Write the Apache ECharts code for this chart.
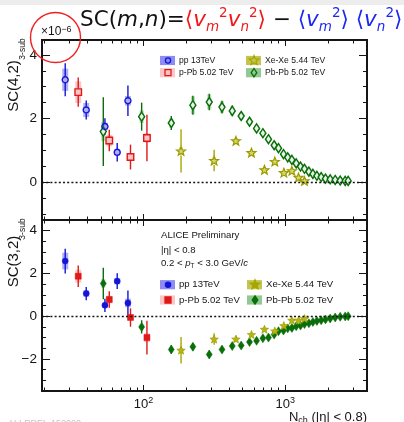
<!DOCTYPE html>
<html>
<head>
<meta charset="utf-8">
<script src="https://cdn.jsdelivr.net/npm/echarts@6/dist/echarts.min.js"></script>
<style>
html, body { margin: 0; padding: 0; background: #fff; }
#chart { width: 404px; height: 422px; }
</style>
</head>
<body>
<div id="chart"></div>
<script>
// ---- multiplicity bins (N_ch, |eta| < 0.8) ----
const ppN   = [28.0, 39.4, 53.4, 65.2, 77.6];
const pPbN  = [34.6, 57.3, 80.9, 105.7];
const xeN   = [184, 315, 449, 578, 714, 845, 979, 1115, 1242, 1368];
const pbN   = [52, 97, 157, 223, 291, 358, 423, 489, 560, 628, 696, 762, 836, 897, 973,
               1042, 1115, 1196, 1282, 1368, 1470, 1569, 1674, 1795, 1925, 2078, 2254, 2445, 2652, 2784];

// ---- SC(4,2) 3-sub, units of 1e-6 ----
const sc42pp       = [3.22, 2.27, 1.75, 0.94, 2.56];
const sc42ppStat   = [0.52, 0.30, 0.26, 0.29, 0.48];
const sc42ppSys    = [0.35, 0.22, 0.12, 0.10, 0.15];
const sc42pPb      = [2.83, 1.31, 0.79, 1.39];
const sc42pPbStat  = [0.46, 0.34, 0.39, 0.73];
const sc42pPbSys   = [0.34, 0.18, 0.12, 0.15];
const sc42xe       = [0.98, 0.68, 1.30, 0.93, 0.39, 0.65, 0.30, 0.36, 0.15, 0.04];
const sc42xeStat   = [0.68, 0.34, 0.12, 0.10, 0.09, 0.08, 0.07, 0.06, 0.06, 0.05];
const sc42xeSys    = [0.12, 0.10, 0.08, 0.07, 0.06, 0.06, 0.05, 0.05, 0.04, 0.04];
const sc42pb       = [1.59, 2.06, 1.86, 2.42, 2.52, 2.36, 2.24, 2.08, 1.90, 1.69, 1.54, 1.35, 1.16, 1.07, 0.88,
                      0.78, 0.70, 0.59, 0.49, 0.42, 0.33, 0.26, 0.20, 0.16, 0.11, 0.09, 0.07, 0.05, 0.04, 0.04];
const sc42pbStat   = [1.08, 0.44, 0.22, 0.30, 0.26, 0.20, 0.17, 0.14, 0.12, 0.11, 0.10, 0.09, 0.08, 0.07, 0.07,
                      0.06, 0.06, 0.05, 0.05, 0.05, 0.04, 0.04, 0.04, 0.03, 0.03, 0.03, 0.03, 0.03, 0.03, 0.03];
const sc42pbSys    = [0.30, 0.20, 0.15, 0.28, 0.24, 0.18, 0.15, 0.12, 0.10, 0.09, 0.08, 0.07, 0.07, 0.06, 0.06,
                      0.05, 0.05, 0.05, 0.04, 0.04, 0.04, 0.03, 0.03, 0.03, 0.03, 0.03, 0.02, 0.02, 0.02, 0.02];

// ---- SC(3,2) 3-sub, units of 1e-6 ----
const sc32pp       = [2.58, 1.06, 0.51, 1.64, 0.62];
const sc32ppStat   = [0.58, 0.31, 0.31, 0.37, 0.58];
const sc32ppSys    = [0.39, 0.15, 0.12, 0.15, 0.20];
const sc32pPb      = [1.87, 0.78, -0.06, -1.00];
const sc32pPbStat  = [0.50, 0.39, 0.43, 0.79];
const sc32pPbSys   = [0.30, 0.18, 0.12, 0.20];
const sc32xe       = [-1.59, -1.07, -1.07, -0.86, -0.61, -0.69, -0.44, -0.19, -0.19, -0.11];
const sc32xeStat   = [0.62, 0.27, 0.14, 0.12, 0.10, 0.10, 0.08, 0.07, 0.06, 0.06];
const sc32xeSys    = [0.10, 0.08, 0.07, 0.06, 0.05, 0.05, 0.04, 0.04, 0.03, 0.03];
const sc32pb       = [1.53, -0.50, -1.56, -1.43, -1.79, -1.56, -1.40, -1.37, -1.21, -1.15, -1.03, -1.00, -0.86, -0.70, -0.67,
                      -0.57, -0.55, -0.47, -0.44, -0.37, -0.33, -0.27, -0.22, -0.19, -0.15, -0.11, -0.06, -0.03, -0.01, 0.00];
const sc32pbStat   = [0.74, 0.31, 0.20, 0.18, 0.18, 0.15, 0.12, 0.10, 0.09, 0.08, 0.07, 0.07, 0.06, 0.06, 0.05,
                      0.05, 0.05, 0.04, 0.04, 0.04, 0.03, 0.03, 0.03, 0.03, 0.03, 0.02, 0.02, 0.02, 0.02, 0.02];
const sc32pbSys    = [0.20, 0.12, 0.10, 0.10, 0.10, 0.08, 0.07, 0.06, 0.06, 0.05, 0.05, 0.05, 0.04, 0.04, 0.04,
                      0.03, 0.03, 0.03, 0.03, 0.03, 0.02, 0.02, 0.02, 0.02, 0.02, 0.02, 0.02, 0.02, 0.02, 0.02];

// ---- axis ticks and labels ----
const xMajorTicks   = [100, 1000];
const xTickExponent = ['2', '3'];
const xMinorTicks   = [20, 30, 40, 50, 60, 70, 80, 90, 200, 300, 400, 500, 600, 700, 800, 900, 2000, 3000];
const y42MajorTicks = [0, 2, 4];
const y42MinorTicks = [-1, -0.5, 0.5, 1, 1.5, 2.5, 3, 3.5];
const y32MajorTicks = [-2, 0, 2, 4];
const y32MinorTicks = [-3, -2.5, -1.5, -1, -0.5, 0.5, 1, 1.5, 2.5, 3, 3.5];

const N_MIN = 19.2, N_MAX = 3780;
const Y42 = [-1.19, 4.47];
const Y32 = [-3.5, 4.5];

const FONT = '"Liberation Sans", Arial, Helvetica, sans-serif';
const INK = '#151515';

const C = {
  pp:  { line: '#1414d8', box: 'rgba(110,110,240,0.55)', leg: '#8c8cf2' },
  pPb: { line: '#e01818', box: 'rgba(245,150,150,0.55)', leg: '#fdc6c6' },
  xe:  { line: '#a6a600', box: 'rgba(200,200,90,0.55)',  leg: '#c4c452' },
  pb:  { line: '#0a6e0a', box: 'rgba(120,195,120,0.55)', leg: '#92c892' }
};

// five-pointed star used for Xe-Xe markers
function starPoints(cx, cy, R, r) {
  const pts = [];
  for (let i = 0; i < 10; i++) {
    const rad = i % 2 ? r : R;
    const a = -Math.PI / 2 + i * Math.PI / 5;
    pts.push([cx + rad * Math.cos(a), cy + rad * Math.sin(a)]);
  }
  return pts;
}
const STAR = 'path://M' + starPoints(10, 10, 10, 4.3).map(p => p[0].toFixed(2) + ',' + p[1].toFixed(2)).join('L') + 'Z';

function xAxis(grid, pos, ticks, len, labels) {
  return {
    type: 'log', logBase: 10, gridIndex: grid, position: pos, min: N_MIN, max: N_MAX,
    axisLine: { show: false, onZero: false },
    axisTick: { show: true, inside: true, length: len, customValues: ticks, lineStyle: { color: INK, width: 1 } },
    axisLabel: labels ? {
      show: true, customValues: ticks, margin: 5,
      formatter: function (v) {
        let k = 0;
        ticks.forEach((t, i) => { if (Math.abs(Math.log10(t) - Math.log10(v)) < Math.abs(Math.log10(ticks[k]) - Math.log10(v))) k = i; });
        return '{b|10}{s|' + xTickExponent[k] + '}';
      },
      rich: {
        b: { fontFamily: FONT, fontSize: 13, color: INK, lineHeight: 16 },
        s: { fontFamily: FONT, fontSize: 9, color: INK, lineHeight: 9, verticalAlign: 'top' }
      }
    } : { show: false },
    splitLine: { show: false }, minorTick: { show: false }, minorSplitLine: { show: false }
  };
}

function yAxis(grid, pos, range, ticks, len, labels) {
  return {
    type: 'value', gridIndex: grid, position: pos, min: range[0], max: range[1],
    axisLine: { show: false, onZero: false },
    axisTick: { show: true, inside: true, length: len, customValues: ticks, lineStyle: { color: INK, width: 1 } },
    axisLabel: labels ? {
      show: true, customValues: ticks, margin: 5,
      fontFamily: FONT, fontSize: 13.5, color: INK,
      formatter: v => (v < 0 ? '\u2212' + Math.abs(v) : String(v))
    } : { show: false },
    splitLine: { show: false }, minorTick: { show: false }
  };
}

// error bars: light systematic box + statistical line (gap around open markers)
function errSeries(axisIdx, N, y, stat, sys, col, boxW, gap) {
  return {
    type: 'custom', xAxisIndex: axisIdx, yAxisIndex: axisIdx, silent: true,
    data: N.map((n, i) => [n, y[i], stat[i], sys[i]]),
    encode: { x: 0, y: 1 },
    renderItem: function (params, api) {
      const x = api.value(0), v = api.value(1), st = api.value(2), sy = api.value(3);
      const c = api.coord([x, v]);
      const top = api.coord([x, v + st])[1], bot = api.coord([x, v - st])[1];
      const kids = [];
      if (sy > 0) {
        const t = api.coord([x, v + sy])[1], b = api.coord([x, v - sy])[1];
        kids.push({ type: 'rect', shape: { x: c[0] - boxW / 2, y: t, width: boxW, height: b - t }, style: { fill: col.box } });
      }
      const ls = { stroke: col.line, lineWidth: 1.4 };
      if (gap > 0) {
        if (c[1] - gap > top) kids.push({ type: 'line', shape: { x1: c[0], y1: top, x2: c[0], y2: c[1] - gap }, style: ls });
        if (c[1] + gap < bot) kids.push({ type: 'line', shape: { x1: c[0], y1: c[1] + gap, x2: c[0], y2: bot }, style: ls });
      } else {
        kids.push({ type: 'line', shape: { x1: c[0], y1: top, x2: c[0], y2: bot }, style: ls });
      }
      return { type: 'group', children: kids };
    }
  };
}

function markSeries(axisIdx, N, y, symbol, size, fill, stroke, bw) {
  return {
    type: 'scatter', xAxisIndex: axisIdx, yAxisIndex: axisIdx, silent: true,
    data: N.map((n, i) => [n, y[i]]),
    symbol: symbol, symbolSize: size, symbolKeepAspect: true,
    itemStyle: { color: fill, borderColor: stroke, borderWidth: bw, opacity: 1 },
    emphasis: { disabled: true }
  };
}

function zeroLine(axisIdx) {
  return {
    type: 'scatter', xAxisIndex: axisIdx, yAxisIndex: axisIdx, data: [], silent: true, z: 1,
    markLine: {
      silent: true, symbol: 'none', animation: false, label: { show: false },
      lineStyle: { type: [2, 2.2], color: INK, width: 1.3 },
      data: [{ yAxis: 0 }]
    }
  };
}

const HOLLOW = 'rgba(255,255,255,0)';

const series = [
  zeroLine(0),
  errSeries(0, pbN, sc42pb, sc42pbStat, sc42pbSys, C.pb, 4, 4.5),
  errSeries(0, xeN, sc42xe, sc42xeStat, sc42xeSys, C.xe, 4, 4.5),
  errSeries(0, pPbN, sc42pPb, sc42pPbStat, sc42pPbSys, C.pPb, 6, 3.5),
  errSeries(0, ppN, sc42pp, sc42ppStat, sc42ppSys, C.pp, 6, 3.2),
  markSeries(0, pbN, sc42pb, 'diamond', [6, 9], '#e6f3e6', C.pb.line, 1.5),
  markSeries(0, xeN, sc42xe, STAR, 9, '#d6d66a', '#9a9a00', 1.2),
  markSeries(0, pPbN, sc42pPb, 'rect', 6.5, HOLLOW, C.pPb.line, 1.4),
  markSeries(0, ppN, sc42pp, 'circle', 6, HOLLOW, C.pp.line, 1.4),

  zeroLine(4),
  errSeries(4, pbN, sc32pb, sc32pbStat, sc32pbSys, C.pb, 4, 0),
  errSeries(4, xeN, sc32xe, sc32xeStat, sc32xeSys, C.xe, 4, 0),
  errSeries(4, pPbN, sc32pPb, sc32pPbStat, sc32pPbSys, C.pPb, 6, 0),
  errSeries(4, ppN, sc32pp, sc32ppStat, sc32ppSys, C.pp, 6, 0),
  markSeries(4, pbN, sc32pb, 'diamond', [6, 9], C.pb.line, C.pb.line, 0.5),
  markSeries(4, xeN, sc32xe, STAR, 8.5, '#b4b414', '#9a9a00', 0.6),
  markSeries(4, pPbN, sc32pPb, 'rect', 6, C.pPb.line, C.pPb.line, 0.5),
  markSeries(4, ppN, sc32pp, 'circle', 6, C.pp.line, C.pp.line, 0.5)
];

// ---- legends, labels and annotations ----
function legendItem(x, yc, col, kind, filled, label, fs) {
  const items = [{ type: 'rect', shape: { x: x, y: yc - 4.6, width: 15, height: 9.2 }, style: { fill: col.leg } }];
  const cx = x + 8, st = { fill: filled ? col.line : 'none', stroke: col.line, lineWidth: 1.3 };
  if (kind === 'circle') items.push({ type: 'circle', shape: { cx: cx, cy: yc, r: 2.6 }, style: st });
  if (kind === 'rect') items.push({ type: 'rect', shape: { x: cx - 3, y: yc - 3, width: 6, height: 6 }, style: st });
  if (kind === 'diamond') items.push({ type: 'polygon', shape: { points: [[cx, yc - 4.2], [cx + 2.8, yc], [cx, yc + 4.2], [cx - 2.8, yc]] }, style: st });
  if (kind === 'star') items.push({ type: 'polygon', shape: { points: starPoints(cx, yc, 5, 2.2) }, style: { fill: filled ? col.line : 'none', stroke: col.line, lineWidth: 1.2 } });
  items.push({ type: 'text', x: x + 19, y: yc, style: { text: label, fontFamily: FONT, fontSize: fs, fill: INK, verticalAlign: 'middle' } });
  return items;
}

const TF = 'DejaVu Sans', TS = 21.5, TSS = 13.5;
const titleRich = {
  k:   { fontFamily: TF, fontSize: TS, fill: '#111', lineHeight: 28 },
  ki:  { fontFamily: TF, fontSize: TS, fill: '#111', lineHeight: 28, fontStyle: 'italic' },
  r:   { fontFamily: TF, fontSize: TS, fill: '#f01818', lineHeight: 28 },
  ri:  { fontFamily: TF, fontSize: TS, fill: '#f01818', lineHeight: 28, fontStyle: 'italic' },
  rsb: { fontFamily: TF, fontSize: TSS, fill: '#f01818', lineHeight: 13, verticalAlign: 'bottom', fontStyle: 'italic' },
  rsp: { fontFamily: TF, fontSize: TSS, fill: '#f01818', lineHeight: 13, verticalAlign: 'top' },
  b:   { fontFamily: TF, fontSize: TS, fill: '#1c28f0', lineHeight: 28 },
  bi:  { fontFamily: TF, fontSize: TS, fill: '#1c28f0', lineHeight: 28, fontStyle: 'italic' },
  bsb: { fontFamily: TF, fontSize: TSS, fill: '#1c28f0', lineHeight: 13, verticalAlign: 'bottom', fontStyle: 'italic' },
  bsp: { fontFamily: TF, fontSize: TSS, fill: '#1c28f0', lineHeight: 13, verticalAlign: 'top' }
};
const titleText =
  '{k|SC(}{ki|m}{k|,}{ki|n}{k|)=}' +
  '{r|\u27E8}{ri|v}{rsb|m}{rsp|2}{ri|v}{rsb|n}{rsp|2}{r|\u27E9}' +
  '{k| \u2212 }' +
  '{b|\u27E8}{bi|v}{bsb|m}{bsp|2}{b|\u27E9 \u27E8}{bi|v}{bsb|n}{bsp|2}{b|\u27E9}';

const graphic = [
  { type: 'rect', shape: { x: 0, y: 0, width: 404, height: 5 }, style: { fill: '#ededed' }, silent: true },
  { type: 'text', x: 80, y: 6, style: { text: titleText, rich: titleRich, verticalAlign: 'top' } },
  { type: 'text', x: 41, y: 25, style: {
      text: '{n|\u00D710}{s|\u22126}', verticalAlign: 'top',
      rich: { n: { fontFamily: FONT, fontSize: 12, fill: INK, lineHeight: 14 },
              s: { fontFamily: FONT, fontSize: 9, fill: INK, lineHeight: 9, verticalAlign: 'top' } } } },
  { type: 'circle', shape: { cx: 55.5, cy: 37.5, r: 25 }, style: { fill: 'none', stroke: '#f02020', lineWidth: 1.4 }, z: 100 },

  // y titles
  { type: 'text', x: 14, y: 86, rotation: Math.PI / 2,
    style: { text: 'SC(4,2)', fontFamily: FONT, fontSize: 15, fill: INK, align: 'center', verticalAlign: 'middle' } },
  { type: 'text', x: 23, y: 49, rotation: Math.PI / 2,
    style: { text: '3-sub', fontFamily: FONT, fontSize: 8.5, fill: INK, align: 'center', verticalAlign: 'middle' } },
  { type: 'text', x: 14, y: 261.5, rotation: Math.PI / 2,
    style: { text: 'SC(3,2)', fontFamily: FONT, fontSize: 15, fill: INK, align: 'center', verticalAlign: 'middle' } },
  { type: 'text', x: 23, y: 229, rotation: Math.PI / 2,
    style: { text: '3-sub', fontFamily: FONT, fontSize: 8.5, fill: INK, align: 'center', verticalAlign: 'middle' } },

  // x title
  { type: 'text', x: 367, y: 409, style: {
      text: '{t|N}{sb|ch}{t| (|\u03B7| < 0.8)}', align: 'right', verticalAlign: 'top',
      rich: { t: { fontFamily: FONT, fontSize: 13, fill: INK, lineHeight: 16 },
              sb: { fontFamily: FONT, fontSize: 9, fill: INK, lineHeight: 9, verticalAlign: 'bottom' } } } },

  // annotations in the lower panel
  { type: 'text', x: 161, y: 235, style: { text: 'ALICE Preliminary', fontFamily: FONT, fontSize: 9.6, fill: INK, verticalAlign: 'middle' } },
  { type: 'text', x: 161, y: 250, style: { text: '|\u03B7| < 0.8', fontFamily: FONT, fontSize: 9.6, fill: INK, verticalAlign: 'middle' } },
  { type: 'text', x: 161, y: 263.5, style: {
      text: '{t|0.2 < }{i|p}{sb|T}{t| < 3.0 GeV/}{i|c}', verticalAlign: 'middle',
      rich: { t: { fontFamily: FONT, fontSize: 9.6, fill: INK, lineHeight: 13 },
              i: { fontFamily: FONT, fontSize: 9.6, fill: INK, lineHeight: 13, fontStyle: 'italic' },
              sb: { fontFamily: FONT, fontSize: 6.5, fill: INK, lineHeight: 7, verticalAlign: 'bottom' } } } },

  // watermark
  { type: 'text', x: 8, y: 419, style: { text: 'ALI-PREL-152080', fontFamily: FONT, fontSize: 9, fill: '#c4c4c4', verticalAlign: 'top' } }
]
  .concat(legendItem(160, 60.5, C.pp, 'circle', false, 'pp 13TeV', 8.6))
  .concat(legendItem(160, 72.7, C.pPb, 'rect', false, 'p-Pb 5.02 TeV', 8.6))
  .concat(legendItem(246, 60.5, C.xe, 'star', false, 'Xe-Xe 5.44 TeV', 8.6))
  .concat(legendItem(246, 72.7, C.pb, 'diamond', false, 'Pb-Pb 5.02 TeV', 8.6))
  .concat(legendItem(160, 284.7, C.pp, 'circle', true, 'pp 13TeV', 9.6))
  .concat(legendItem(160, 300, C.pPb, 'rect', true, 'p-Pb 5.02 TeV', 9.6))
  .concat(legendItem(247, 284.7, C.xe, 'star', true, 'Xe-Xe 5.44 TeV', 9.6))
  .concat(legendItem(247, 300, C.pb, 'diamond', true, 'Pb-Pb 5.02 TeV', 9.6));

const chart = echarts.init(document.getElementById('chart'), null, { renderer: 'canvas' });
chart.setOption({
  animation: false,
  backgroundColor: '#ffffff',
  grid: [
    { left: 42, right: 37, top: 40, height: 180, show: true, borderColor: INK, borderWidth: 2, backgroundColor: 'transparent' },
    { left: 42, right: 37, top: 220, height: 171, show: true, borderColor: INK, borderWidth: 2, backgroundColor: 'transparent' }
  ],
  xAxis: [
    xAxis(0, 'bottom', xMajorTicks, 6, false),
    xAxis(0, 'bottom', xMinorTicks, 3.5, false),
    xAxis(0, 'top', xMajorTicks, 6, false),
    xAxis(0, 'top', xMinorTicks, 3.5, false),
    xAxis(1, 'bottom', xMajorTicks, 6, true),
    xAxis(1, 'bottom', xMinorTicks, 3.5, false),
    xAxis(1, 'top', xMajorTicks, 6, false),
    xAxis(1, 'top', xMinorTicks, 3.5, false)
  ],
  yAxis: [
    yAxis(0, 'left', Y42, y42MajorTicks, 8, true),
    yAxis(0, 'left', Y42, y42MinorTicks, 4, false),
    yAxis(0, 'right', Y42, y42MajorTicks, 8, false),
    yAxis(0, 'right', Y42, y42MinorTicks, 4, false),
    yAxis(1, 'left', Y32, y32MajorTicks, 8, true),
    yAxis(1, 'left', Y32, y32MinorTicks, 4, false),
    yAxis(1, 'right', Y32, y32MajorTicks, 8, false),
    yAxis(1, 'right', Y32, y32MinorTicks, 4, false)
  ],
  series: series,
  graphic: graphic
});
</script>
</body>
</html>
